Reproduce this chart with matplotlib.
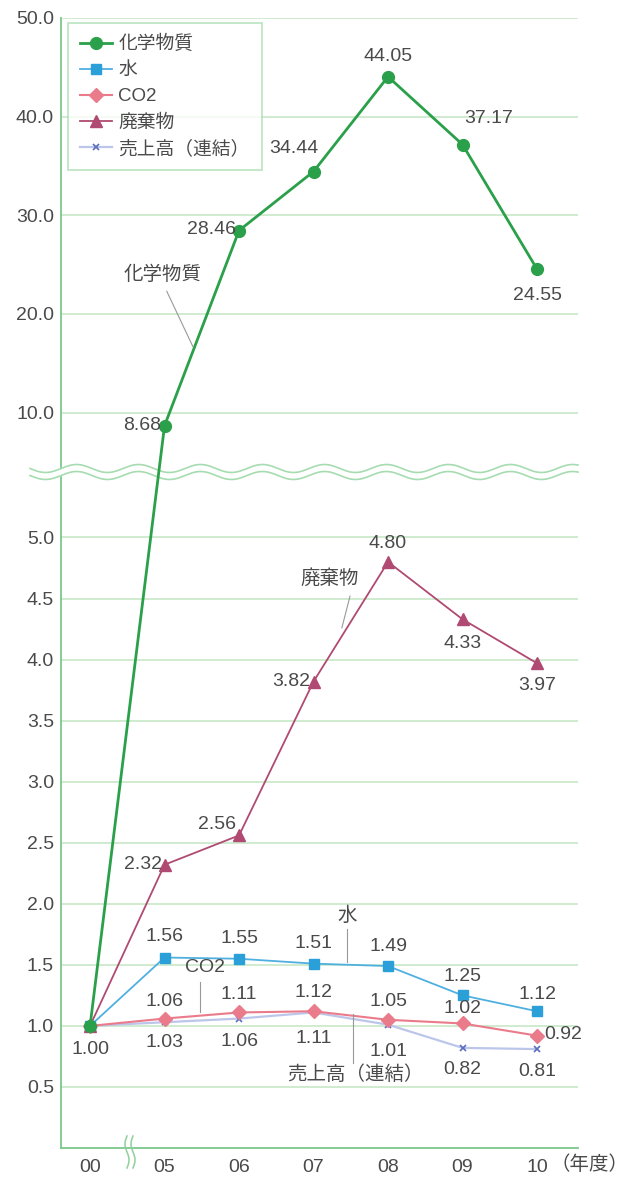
import numpy as np
import matplotlib
matplotlib.use("Agg")
import matplotlib.pyplot as plt

plt.rcParams['font.family'] = ['Liberation Sans', 'Noto Sans CJK JP', 'DejaVu Sans']

years = ['00', '05', '06', '07', '08', '09', '10']
chem = [1.00, 8.68, 28.46, 34.44, 44.05, 37.17, 24.55]
water = [1.00, 1.56, 1.55, 1.51, 1.49, 1.25, 1.12]
co2 = [1.00, 1.06, 1.11, 1.12, 1.05, 1.02, 0.92]
waste = [1.00, 2.32, 2.56, 3.82, 4.80, 4.33, 3.97]
sales = [1.00, 1.03, 1.06, 1.11, 1.01, 0.82, 0.81]

ticks_low = [0.5, 1.0, 1.5, 2.0, 2.5, 3.0, 3.5, 4.0, 4.5, 5.0]
ticks_high = [10.0, 20.0, 30.0, 40.0, 50.0]

TXT = '#4a4a4a'
GRID = '#c2e6c2'
SPINE = '#7cc88a'
FS = 14

# broken axis: 0-5.4 is stretched, 5.5-50 is compressed
ypts = [0, 5.4, 5.5, 50]
fpts = [0, 659, 690.6, 1129.4]

def fwd(y):
    return np.interp(y, ypts, fpts)

def inv(f):
    return np.interp(f, fpts, ypts)

fig = plt.figure(figsize=(6.27, 11.78), dpi=100)
ax = fig.add_axes([61 / 627, 1 - 1148 / 1178, 517 / 627, 1130 / 1178])
ax.set_yscale('function', functions=(fwd, inv))
ax.set_ylim(0, 50)
ax.set_xlim(-0.39, 6.55)

x = np.arange(len(years))

ax.plot(x, sales, color='#bcc6ea', lw=1.6, marker='x', ms=5, mec='#5a6cc0', mew=1.2, zorder=4, label='売上高（連結）')
ax.plot(x, co2, color='#ea7b8b', lw=1.5, marker='D', ms=7, mfc='#ea7b8b', mec='#ea7b8b', zorder=5, label='CO2')
ax.plot(x, water, color='#4fb0e0', lw=1.3, marker='s', ms=7, mfc='#2b9fd8', mec='#2b9fd8', zorder=5, label='水')
ax.plot(x, waste, color='#b04a72', lw=1.3, marker='^', ms=8, zorder=5, label='廃棄物')
ax.plot(x, chem, color='#2ba04a', lw=2.0, marker='o', ms=8.5, zorder=8, label='化学物質')

# grid & axes
yt = ticks_low + ticks_high
ax.set_yticks(yt)
ax.set_yticklabels([f'{t:.1f}' for t in yt])
for t in yt:
    ax.axhline(t, color=GRID, lw=1.1, zorder=1)
ax.set_xticks(x)
ax.set_xticklabels(years)
ax.tick_params(length=0, colors=TXT, labelsize=FS)
ax.tick_params(axis='x', pad=8)
ax.tick_params(axis='y', pad=5)
for s in ['top', 'right']:
    ax.spines[s].set_visible(False)
for s in ['left', 'bottom']:
    ax.spines[s].set_color(SPINE)
    ax.spines[s].set_linewidth(1.3)

ax.text((550 - 61) / 517, -17 / 1130, '（年度）', transform=ax.transAxes,
        ha='left', va='center', fontsize=FS, color=TXT)

# wavy break across the plot
wx = np.linspace(-31 / 517, 1.0, 600)
per = 62 / 517
yc = 676 / 1130
amp = 4 / 1130
gap = 3.5 / 1130
w1 = yc + gap + amp * np.sin(2 * np.pi * wx / per)
w2 = yc - gap + amp * np.sin(2 * np.pi * wx / per)
ax.fill_between(wx, w2, w1, transform=ax.transAxes, color='white', zorder=6, clip_on=False, lw=0)
ax.plot(wx, w1, transform=ax.transAxes, color='#a6dcb0', lw=1.2, zorder=7, clip_on=False)
ax.plot(wx, w2, transform=ax.transAxes, color='#a6dcb0', lw=1.2, zorder=7, clip_on=False)

# small break mark on x axis
by = np.linspace(-20 / 1130, 12 / 1130, 50)
for bx0 in [(127 - 61) / 517, (133 - 61) / 517]:
    bxs = bx0 + 2 / 517 * np.sin(2 * np.pi * (by - by[0]) / (by[-1] - by[0]))
    ax.plot(bxs, by, transform=ax.transAxes, color='#8fd09a', lw=1.1, clip_on=False, zorder=7)

# value labels: (dx, dy, ha) in pixels
def put_labels(vals, offs):
    for i, (v, o) in enumerate(zip(vals, offs)):
        if o is None:
            continue
        dx, dy, ha = o
        ax.annotate(f'{v:.2f}', (x[i], v), xytext=(dx, dy), textcoords='offset pixels',
                    ha=ha, va='center', fontsize=FS, color=TXT, zorder=9)

put_labels(chem, [(0, -24, 'center'), (-3, 0, 'right'), (-3, 1, 'right'), (-20, 23, 'center'),
                  (0, 20, 'center'), (26, 26, 'center'), (0, -26, 'center')])
put_labels(waste, [None, (-3, 0, 'right'), (-22, 11, 'center'), (-3, 0, 'right'),
                   (0, 18, 'center'), (0, -24, 'center'), (0, -22, 'center')])
put_labels(water, [None, (0, 21, 'center'), (0, 20, 'center'), (0, 20, 'center'),
                   (0, 20, 'center'), (0, 19, 'center'), (0, 17, 'center')])
put_labels(co2, [None, (0, 17, 'center'), (0, 18, 'center'), (0, 19, 'center'),
                 (0, 18, 'center'), (0, 15, 'center'), (7, 1, 'left')])
put_labels(sales, [None, (0, -20, 'center'), (0, -23, 'center'), (0, -26, 'center'),
                   (0, -27, 'center'), (0, -22, 'center'), (0, -22, 'center')])

# series name callouts with leader lines
callouts = [
    ('化学物質', (0.97, 24.0), (1.03, 22.3), (1.38, 16.7)),
    ('廃棄物', (3.22, 4.66), (3.49, 4.52), (3.38, 4.26)),
    ('水', (3.45, 1.90), (3.45, 1.79), (3.45, 1.52)),
    ('CO2', (1.54, 1.475), (1.48, 1.36), (1.48, 1.115)),
    ('売上高（連結）', (3.56, 0.60), (3.53, 0.70), (3.53, 1.10)),
]
for name, tpos, p0, p1 in callouts:
    ax.text(tpos[0], tpos[1], name, ha='center', va='center', fontsize=FS, color=TXT, zorder=9)
    ax.plot([p0[0], p1[0]], [p0[1], p1[1]], color='#999999', lw=0.8, zorder=9)

# legend
h, l = ax.get_legend_handles_labels()
order = [4, 2, 1, 3, 0]
leg = ax.legend([h[i] for i in order], [l[i] for i in order], loc='upper left',
                bbox_to_anchor=(0.006, 0.999), fontsize=13.5, frameon=True, fancybox=False,
                handlelength=1.7, labelspacing=0.47, borderpad=0.65, handletextpad=0.35,
                borderaxespad=0.2, labelcolor=TXT)
leg.get_frame().set_edgecolor('#a8dcb0')
leg.get_frame().set_linewidth(1.2)
leg.set_zorder(10)

fig.savefig('out.png', dpi=100)
